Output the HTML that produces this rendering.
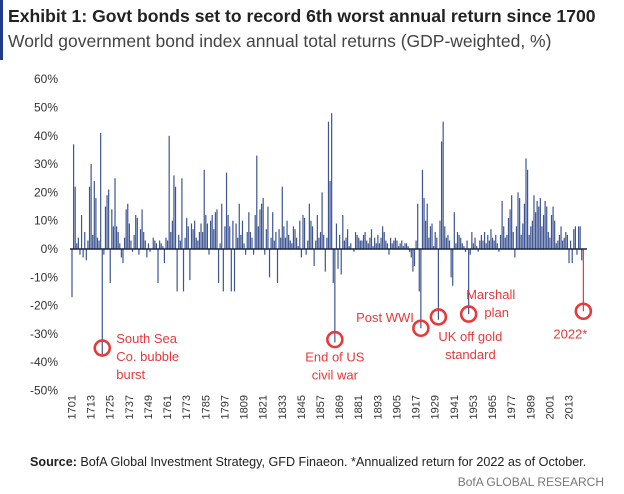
<!DOCTYPE html>
<html><head><meta charset="utf-8"><style>
body{margin:0;background:#fff;font-family:"Liberation Sans",sans-serif;}
#wrap{position:relative;width:624px;height:494px;overflow:hidden;}
</style></head><body>
<div id="wrap">
<svg id="svg" width="624" height="494" xmlns="http://www.w3.org/2000/svg">
<rect x="0" y="0" width="3" height="60" fill="#1f3c88"/>
<text x="8" y="22" font-size="17.6" font-weight="bold" fill="#222">Exhibit 1: Govt bonds set to record 6th worst annual return since 1700</text>
<text x="8" y="47" font-size="17.5" fill="#444">World government bond index annual total returns (GDP-weighted, %)</text>
<g id="yaxis"></g>
<g id="xaxis"></g>
<g id="bars"></g>
<line id="zero" stroke="#1a2340" stroke-width="1.5"/>
<g id="ann" fill="#e8383b" font-size="13" font-family="Liberation Sans, sans-serif"></g>
<text x="30" y="466" font-size="12.6" fill="#222"><tspan font-weight="bold">Source:</tspan> BofA Global Investment Strategy, GFD Finaeon. *Annualized  return for 2022 as of October.</text>
<text x="604" y="486" font-size="12" fill="#777" text-anchor="end">BofA GLOBAL RESEARCH</text>
</svg>
</div>
<script>
const startYear = 1701;
const returns = [
-17,37,22,2,4,-2,12,-3,6,-4,
3,22,30,5,24,18,4,3,41,-38,
-2,15,19,21,-12,14,8,25,8,6,
2,-3,-5,4,14,16,9,3,-1,5,
12,11,-2,7,14,6,3,-3,2,-1,
0,4,3,2,-12,3,2,1,-5,4,
3,40,6,10,26,22,-15,5,3,25,
-15,4,11,8,-11,9,7,10,4,3,
6,9,6,28,12,9,-2,10,12,7,
13,14,-12,2,16,-15,8,27,12,8,
-15,10,-15,9,4,16,5,10,2,-2,
6,13,6,4,-2,12,33,8,14,16,
18,-2,7,15,-10,4,13,3,6,-12,
7,4,22,8,4,10,5,3,2,8,
7,4,1,10,-3,12,11,-2,3,16,
10,8,-6,3,12,4,6,20,5,-8,
4,45,24,48,-12,-33,9,-7,5,-9,
12,3,4,7,1,2,0,-1,6,5,
4,3,3,5,6,3,2,4,7,1,
4,2,5,2,4,8,6,3,2,-2,
4,2,3,4,3,1,2,3,1,2,
2,1,-1,-3,-8,-6,3,16,-15,-28,
28,18,10,16,4,8,9,1,6,4,
-25,10,38,45,8,4,5,3,-10,-13,
13,2,6,5,4,2,1,-1,3,-23,
-2,6,2,4,1,-1,3,5,3,6,
2,5,3,7,4,3,5,2,-1,5,
17,8,4,5,11,14,19,6,-3,8,
20,18,5,9,16,32,28,5,8,10,
19,13,17,15,18,8,12,17,15,6,
4,12,15,10,2,3,5,8,3,4,
6,5,-5,3,-5,7,8,-2,8,8,
-4,-22];
const yTicks = [60,50,40,30,20,10,0,-10,-20,-30,-40,-50];
const xTickYears = [1701,1713,1725,1737,1749,1761,1773,1785,1797,1809,1821,1833,1845,1857,1869,1881,1893,1905,1917,1929,1941,1953,1965,1977,1989,2001,2013];
const annotations = [
 {year:1720, value:-35, lines:["South Sea","Co. bubble","burst"]},
 {year:1866, value:-32, lines:["End of US","civil war"]},
 {year:1920, value:-28, lines:["Post WWI"]},
 {year:1931, value:-24, lines:["UK off gold","standard"]},
 {year:1950, value:-23, lines:["Marshall","plan"]},
 {year:2022, value:-22, lines:["2022*"]}
];
const NS="http://www.w3.org/2000/svg";
const x0=72, pxPerYear=1.593, zeroY=249, pxPerPct=2.83;
function xs(year){return x0+(year-startYear)*pxPerYear;}
function ys(v){return zeroY-v*pxPerPct;}
function mk(tag,attrs,parent){const e=document.createElementNS(NS,tag);for(const k in attrs)e.setAttribute(k,attrs[k]);parent.appendChild(e);return e;}
const yaxis=document.getElementById('yaxis');
yTicks.forEach(t=>{
 const e=mk('text',{x:58,y:ys(t)+4,'font-size':12,fill:'#333','text-anchor':'end'},yaxis);
 
 
 e.textContent=t+'%';
});
const xaxis=document.getElementById('xaxis');
xTickYears.forEach(yr=>{
 const x=xs(yr)+3.5;
 const e=mk('text',{x:0,y:0,'font-size':11,fill:'#333','text-anchor':'end',transform:`translate(${x},395) rotate(-90)`},xaxis);
 
 
 e.textContent=yr;
});
const bars=document.getElementById('bars');
returns.forEach((v,i)=>{
 const yr=startYear+i;
 const x=xs(yr);
 const top=Math.min(ys(v),zeroY), h=Math.abs(ys(v)-zeroY);
 const r=mk('rect',{x:x-0.6,y:top,width:1.2,height:Math.max(h,0.3),fill:yr===2022?'#e8383b':'#3d5592'},bars);
 
 
});
const z=document.getElementById('zero');
z.setAttribute('x1',70);z.setAttribute('x2',587);z.setAttribute('y1',zeroY);z.setAttribute('y2',zeroY);
const ann=document.getElementById('ann');
const labelPos={
 1720:{dx:14,dy:-5,anchor:'start',lh:18},
 1866:{dx:0,dy:22,anchor:'middle',lh:18},
 1920:{dx:-7,dy:-6,anchor:'end',lh:18},
 1931:{dx:32,dy:24,anchor:'middle',lh:18},
 1950:{dx:22,dy:-15,anchor:'middle',lh:18},
 2022:{dx:-13,dy:27,anchor:'middle',lh:18}
};
annotations.forEach(a=>{
 const cx=xs(a.year), cy=ys(a.value);
 const c=mk('circle',{cx:cx,cy:cy,r:7.5,fill:'none',stroke:'#e8383b','stroke-width':2.6},ann);
 
 
 const p=labelPos[a.year];
 a.lines.forEach((ln,k)=>{
  let dx=p.dx;
  if(a.year===1950&&k===1)dx=p.dx+6;
  const t=mk('text',{x:cx+dx,y:cy+p.dy+k*p.lh,'text-anchor':p.anchor},ann);
  
  
  t.textContent=ln;
 });
});
</script>
</body></html>
